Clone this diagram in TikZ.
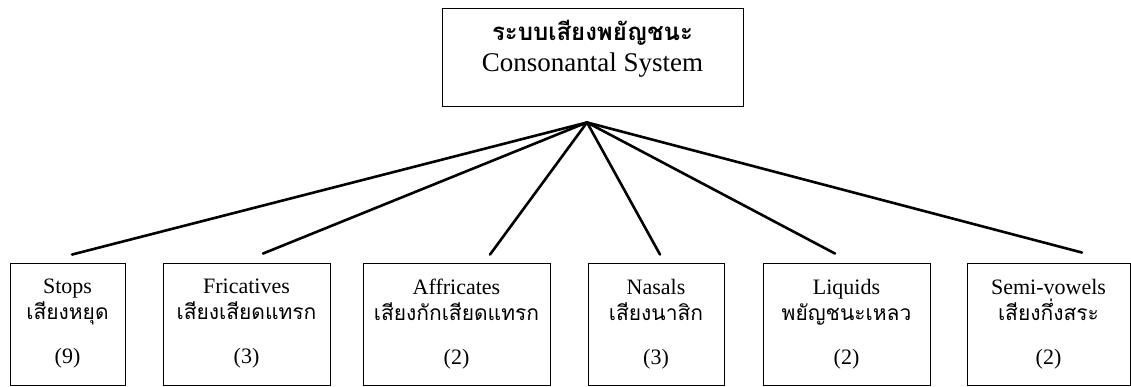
\documentclass[tikz,border=0pt]{standalone}
\usepackage{fontspec}
\setmainfont{Liberation Serif}
\newfontfamily\thai[Script=Thai]{Loma}
\newcommand{\thaiword}[1]{{\thai\fontsize{21}{26}\selectfont #1}}
\begin{document}
\begin{tikzpicture}
            [x=1pt,y=-1pt,
             Box/.style={draw=black,line width=0.9pt,inner sep=0pt,minimum height=122pt,align=center,font=\fontsize{22}{26}\selectfont},
             Link/.style={line width=2.6pt,line cap=round}];
            \useasboundingbox (0,0) rectangle (1131,387);
            \node[Box,minimum width=301pt,minimum height=98pt,text depth=22pt,font=\fontsize{27}{31}\selectfont] (sys) at (592.5,57){{\thai\bfseries\fontsize{24}{31}\selectfont ระบบเสียงพยัญชนะ}\\Consonantal System};
            \coordinate (apex) at ([xshift=-5.5pt,yshift=-16pt]sys.south);
            \node[Box,minimum width=115pt] (stops) at (67.5,324){Stops\\\thaiword{เสียงหยุด}\\[18pt](9)};
            \node[Box,minimum width=167pt] (fric) at (246.5,324){Fricatives\\\thaiword{เสียงเสียดแทรก}\\[18pt](3)};
            \node[Box,minimum width=187pt] (affr) at (456.5,324){Affricates\\\thaiword{เสียงกักเสียดแทรก}\\[18pt](2)};
            \node[Box,minimum width=136pt] (nasal) at (656,324){Nasals\\\thaiword{เสียงนาสิก}\\[18pt](3)};
            \node[Box,minimum width=167pt] (liquid) at (846.5,324){Liquids\\\thaiword{พยัญชนะเหลว}\\[18pt](2)};
            \node[Box,minimum width=163pt] (semi) at (1048.5,324){Semi-vowels\\\thaiword{เสียงกึ่งสระ}\\[18pt](2)};
    	    \draw [-,Link](apex) to ([xshift=4.5pt,yshift=8pt]stops.north);
    	    \draw [-,Link](apex) to ([xshift=16.5pt,yshift=9pt]fric.north);
    	    \draw [-,Link](apex) to ([xshift=33.5pt,yshift=8pt]affr.north);
    	    \draw [-,Link](apex) to ([xshift=4pt,yshift=8pt]nasal.north);
    	    \draw [-,Link](apex) to ([xshift=-11.5pt,yshift=9pt]liquid.north);
    	    \draw [-,Link](apex) to ([xshift=33.5pt,yshift=10pt]semi.north);
        \end{tikzpicture}
\end{document}
